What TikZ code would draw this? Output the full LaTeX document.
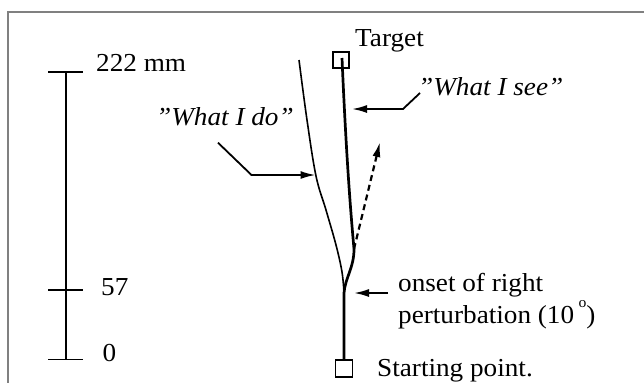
\documentclass[tikz,border=0pt]{standalone}
\usepackage{fontspec}
\setmainfont{Liberation Serif}[FakeStretch=1.05,Ligatures=ResetAll]
\usetikzlibrary{arrows.meta}
\begin{document}
\begin{tikzpicture}[x=1bp,y=-1bp,
  lbl/.style={inner sep=0pt,anchor=base west,font=\fontsize{26}{31}\selectfont},
  ilbl/.style={lbl,font=\fontsize{26}{31}\selectfont\itshape},
  scalebar/.style={line width=1.8bp},
  boxnode/.style={draw,line width=1.6bp,minimum size=16bp,inner sep=0pt},
  tip/.style={-{Latex[length=15bp,width=8bp]}},
  leader/.style={line width=1.8bp,tip},
  seen/.style={line width=2.7bp},
  done/.style={line width=1.6bp},
  frameline/.style={draw=black!50,line width=2bp}]
\useasboundingbox (0,0) rectangle (644,382);
% frame
\coordinate (fbl) at (7.5,385);
\coordinate (ftl) at (7.5,11.5);
\coordinate (ftr) at (646,11.5);
\draw[frameline] (fbl) -- (ftl) -- (ftr);
% scale bar
\coordinate (s0) at (66,359.5);
\coordinate (s57) at (66,290);
\coordinate (s222) at (66,72.3);
\draw[scalebar] (s0) -- (s222);
\draw[scalebar] ([xshift=-18bp]s222) -- ([xshift=17bp]s222);
\draw[scalebar] ([xshift=-18bp]s57) -- ([xshift=17bp]s57);
\draw[scalebar] ([xshift=-18bp]s0) -- ([xshift=17bp]s0);
\node[lbl] (l222) at (96,71.7) {222 mm};
\node[lbl] (l57) at (101,295.5) {57};
\node[lbl] (l0) at (102.5,361.7) {0};
% boxes
\node[boxnode] (target) at (341,60) {};
\node[boxnode,minimum size=17bp] (start) at (344,368.5) {};
\node[lbl] (ttarget) at (355,46.7) {Target};
\node[lbl] (tstart) at (377,376) {Starting point.};
% trajectories
\coordinate (tin) at (342,58);
\coordinate (kink) at (354,249);
\coordinate (onset) at (344,293);
\draw[seen] (tin) .. controls (346,150) and (350,205) .. (kink)
  .. controls (354,268) and (345,278) .. (onset) -- (start.north);
\coordinate (dtop) at (299,60);
\draw[done] plot[smooth,tension=0.6] coordinates {(dtop) (307,120) (316,176) (326,210) (336,245) (342,272) (onset)};
% dashed arrow
\coordinate (dashtip) at (380,142);
\draw[line width=2.2bp,dash pattern=on 6bp off 4bp,tip] (kink) -- (dashtip);
% labels and leaders
\node[ilbl] (see) at (418,95) {"What I see"};
\coordinate (see1) at (420,93);
\coordinate (see2) at (403,109);
\coordinate (see3) at (352,109);
\draw[leader] (see1) -- (see2) -- (see3);
\node[ilbl] (do) at (156,125) {"What I do"};
\coordinate (do1) at (218,142.7);
\coordinate (do2) at (251.5,175);
\coordinate (do3) at (315.5,175);
\draw[leader] (do1) -- (do2) -- (do3);
\node[lbl] (onset1) at (398,291.7) {onset of right};
\node[lbl] (onset2) at (398,323.3) {perturbation (10\,\raisebox{0.62em}{\fontsize{15}{15}\selectfont o})};
\coordinate (on1) at (388,293);
\coordinate (on2) at (354,293);
\draw[leader] (on1) -- (on2);
\end{tikzpicture}
\end{document}
